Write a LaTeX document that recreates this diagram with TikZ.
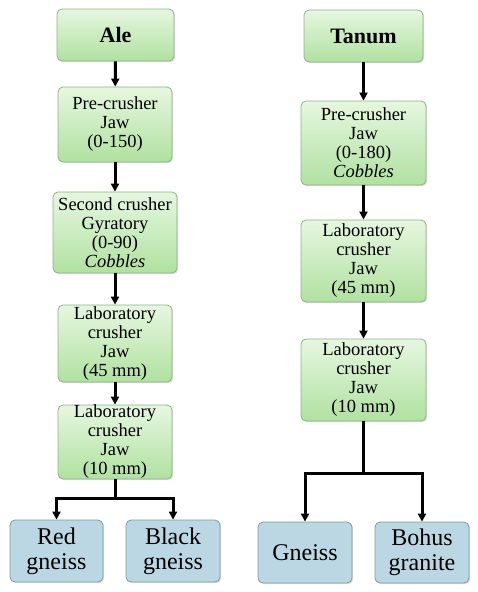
\documentclass[tikz,border=0pt]{standalone}
\usepackage{fontspec}
\setmainfont{Liberation Serif}
\usetikzlibrary{shadows,arrows.meta}
\definecolor{gtop}{HTML}{E6F7E0}
\definecolor{gbot}{HTML}{B0E1A0}
\definecolor{gline}{HTML}{8FB08A}
\definecolor{bfill}{HTML}{BAD7E3}
\definecolor{bline}{HTML}{7E99A4}
\tikzset{
  base/.style={rounded corners=5pt, align=center, inner sep=0pt, line width=0.8pt,
    drop shadow={shadow xshift=1.2pt, shadow yshift=-1.2pt, opacity=0.25}},
  gbox/.style={base, draw=gline, top color=gtop, bottom color=gbot,
    font=\fontsize{18.5}{19}\selectfont},
  headbox/.style={gbox, font=\fontsize{22}{24}\selectfont\bfseries},
  leaf/.style={base, draw=bline, fill=bfill, font=\fontsize{24}{25}\selectfont},
  arr/.style={line width=3pt, -{Triangle[length=8pt,width=8pt]}},
  ln/.style={line width=3pt}
}
\begin{document}
\begin{tikzpicture}[x=1pt,y=-1pt]
\useasboundingbox (0,0) rectangle (477,592);
% left column
\node[headbox, minimum width=117pt, minimum height=52pt] (ale) at (115.5,35) {Ale};
\node[gbox, minimum width=114pt, minimum height=75pt] (l1) at (115,124.5) {Pre-crusher\\Jaw\\(0-150)};
\node[gbox, minimum width=124pt, minimum height=81pt] (l2) at (115,232.5) {Second crusher\\Gyratory\\(0-90)\\\textit{Cobbles}};
\node[gbox, minimum width=114pt, minimum height=77pt] (l3) at (115,343.5) {Laboratory\\crusher\\Jaw\\(45 mm)};
\node[gbox, minimum width=114pt, minimum height=74pt] (l4) at (115,442) {Laboratory\\crusher\\Jaw\\(10 mm)};
\node[leaf, minimum width=93pt, minimum height=62pt] (red) at (56.5,551) {Red\\gneiss};
\node[leaf, minimum width=94pt, minimum height=62pt] (black) at (173,551) {Black\\gneiss};
% right column
\node[headbox, minimum width=119pt, minimum height=52pt] (tanum) at (363.5,36) {Tanum};
\node[gbox, minimum width=125pt, minimum height=84pt] (r1) at (363.5,143) {Pre-crusher\\Jaw\\(0-180)\\\textit{Cobbles}};
\node[gbox, minimum width=125pt, minimum height=82pt] (r2) at (363.5,261) {Laboratory\\crusher\\Jaw\\(45 mm)};
\node[gbox, minimum width=125pt, minimum height=82pt] (r3) at (363.5,380) {Laboratory\\crusher\\Jaw\\(10 mm)};
\node[leaf, minimum width=94pt, minimum height=61pt] (gneiss) at (305,552.5) {Gneiss};
\node[leaf, minimum width=94pt, minimum height=61pt] (bohus) at (422,552.5) {Bohus\\granite};
% connectors left
\draw[arr] (ale) -- (l1);
\draw[arr] (l1) -- (l2);
\draw[arr] (l2) -- (l3);
\draw[arr] (l3) -- (l4);
\coordinate (lj) at (115,498);
\draw[ln] (l4.south) -- (lj);
\draw[arr] (lj) -| (red.north);
\draw[arr] (lj) -| (black.north);
% connectors right
\draw[arr] (tanum) -- (r1);
\draw[arr] (r1) -- (r2);
\draw[arr] (r2) -- (r3);
\coordinate (rj) at (363.5,473);
\draw[ln] (r3.south) -- (rj);
\draw[arr] (rj) -| (gneiss.north);
\draw[arr] (rj) -| (bohus.north);
\end{tikzpicture}
\end{document}
